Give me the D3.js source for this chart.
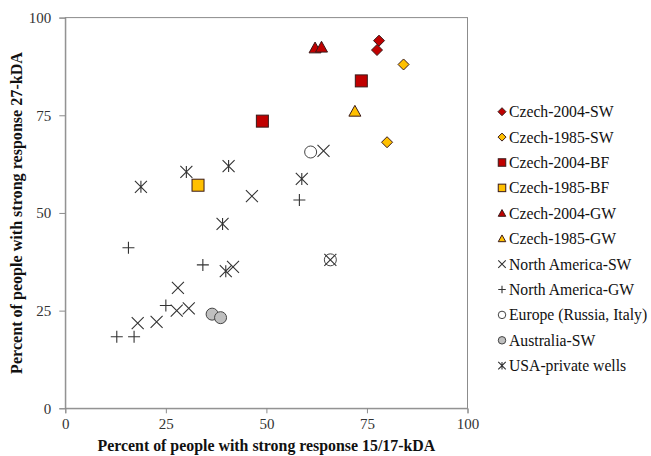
<!DOCTYPE html>
<html><head><meta charset="utf-8">
<script src="https://cdn.jsdelivr.net/npm/d3@7"></script>
<style>body{margin:0;background:#fff}svg{display:block}</style>
</head><body>
<svg id="c" width="651" height="456"></svg>
<script>
const seriesNames = ["Czech-2004-SW","Czech-1985-SW","Czech-2004-BF","Czech-1985-BF","Czech-2004-GW","Czech-1985-GW","North America-SW","North America-GW","Europe (Russia, Italy)","Australia-SW","USA-private wells"];
const czech2004SW = [[78.0,94.1],[77.5,91.7]];
const czech1985SW = [[84.1,88.0],[80.0,68.1]];
const czech2004BF = [[73.6,83.8],[49.0,73.5]];
const czech1985BF = [[33.0,57.1]];
const czech2004GW = [[62.1,92.2],[63.7,92.4]];
const czech1985GW = [[72.0,76.0]];
const northAmericaSW = [[64.2,65.9],[46.4,54.3],[65.9,38.0],[41.7,36.2],[28.0,30.8],[27.7,25.0],[30.7,25.6],[18.0,21.8],[22.7,22.1]];
const northAmericaGW = [[58.2,53.3],[15.7,41.1],[34.2,36.7],[25.0,26.3],[12.8,18.3],[17.1,18.3]];
const europe = [[61.0,65.6],[65.9,38.0]];
const australiaSW = [[36.5,24.1],[38.6,23.2]];
const usaPrivateWells = [[18.8,56.7],[30.1,60.5],[40.6,62.0],[58.8,58.7],[39.1,47.2],[39.9,35.1]];
const xTicks = [0,25,50,75,100];
const yTicks = [0,25,50,75,100];

const RED="#C00000", YEL="#FFC000", EDGE="#3a1a1a";
const styles = [
 {shape:"diamond",fill:RED},{shape:"diamond",fill:YEL},
 {shape:"square",fill:RED},{shape:"square",fill:YEL},
 {shape:"triangle",fill:RED},{shape:"triangle",fill:YEL},
 {shape:"x"},{shape:"plus"},{shape:"circle",fill:"#fff"},{shape:"circle",fill:"#bfbfbf"},{shape:"star"}
];
const data = [czech2004SW,czech1985SW,czech2004BF,czech1985BF,czech2004GW,czech1985GW,northAmericaSW,northAmericaGW,europe,australiaSW,usaPrivateWells];

const svg = d3.select("#c");
const L=65.3,R=467.5,T=17.6,B=408.3;
const x=d3.scaleLinear().domain([0,100]).range([L,R]);
const y=d3.scaleLinear().domain([0,100]).range([B,T]);

svg.append("rect").attr("x",L).attr("y",T).attr("width",R-L).attr("height",B-T).attr("fill","none").attr("stroke","#8c8c8c").attr("stroke-width",1);

const font="'Liberation Serif','Times New Roman',serif";
const xa=svg.append("g").attr("transform",`translate(0,${B})`).call(d3.axisBottom(x).tickValues(xTicks).tickSize(5).tickPadding(5));
const ya=svg.append("g").attr("transform",`translate(${L},0)`).call(d3.axisLeft(y).tickValues(yTicks).tickSize(6).tickPadding(8));
[xa,ya].forEach(a=>{a.selectAll("path,line").attr("stroke","#8c8c8c");a.selectAll("text").attr("font-family",font).attr("font-size",15).attr("fill","#333");});

function draw(g,shape,s,fill){
  const h=s/2;
  if(shape==="diamond") g.append("path").attr("d",`M0,${-h}L${h},0L0,${h}L${-h},0Z`).attr("fill",fill).attr("stroke",EDGE).attr("stroke-width",1);
  else if(shape==="square") g.append("rect").attr("x",-h).attr("y",-h).attr("width",s).attr("height",s).attr("fill",fill).attr("stroke",EDGE).attr("stroke-width",1);
  else if(shape==="triangle") g.append("path").attr("d",`M0,${-h}L${h},${h*0.8}L${-h},${h*0.8}Z`).attr("fill",fill).attr("stroke",EDGE).attr("stroke-width",1);
  else if(shape==="circle") g.append("circle").attr("r",h).attr("fill",fill).attr("stroke","#444").attr("stroke-width",1);
  else if(shape==="x") g.append("path").attr("d",`M${-h},${-h}L${h},${h}M${h},${-h}L${-h},${h}`).attr("stroke","#333").attr("stroke-width",1.1).attr("fill","none");
  else if(shape==="plus") g.append("path").attr("d",`M${-h},0L${h},0M0,${-h}L0,${h}`).attr("stroke","#333").attr("stroke-width",1.1).attr("fill","none");
  else if(shape==="star") g.append("path").attr("d",`M${-h},${-h}L${h},${h}M${h},${-h}L${-h},${h}M0,${-h}L0,${h}`).attr("stroke","#333").attr("stroke-width",1.1).attr("fill","none");
}
const sizes={diamond:11,square:12,triangle:12,circle:12,x:12,plus:12,star:12};
const order=[9,8,6,7,10,0,1,2,3,4,5];
order.forEach(i=>{
  const st=styles[i];
  data[i].forEach(d=>{
    const g=svg.append("g").attr("transform",`translate(${x(d[0])},${y(d[1])})`);
    draw(g,st.shape,sizes[st.shape],st.fill);
  });
});

// legend
const lg=svg.append("g");
seriesNames.forEach((n,i)=>{
  const cy=111.7+i*25.4;
  const g=lg.append("g").attr("transform",`translate(502,${cy})`);
  draw(g,styles[i].shape,styles[i].shape==="diamond"?8:7.5,styles[i].fill);
  lg.append("text").attr("x",509).attr("y",cy).attr("dy","0.35em").attr("font-family",font).attr("font-size",15.7).attr("fill","#111").text(n);
});

function fit(t,target){const w=t.node().getComputedTextLength();const fs=parseFloat(t.attr("font-size"));if(w>0)t.attr("font-size",(fs*target/w).toFixed(2));}
const xt=svg.append("text").attr("x",(L+R)/2).attr("y",451).attr("text-anchor","middle").attr("font-family",font).attr("font-weight","bold").attr("font-size",16).attr("fill","#111").text("Percent of people with strong response 15/17-kDA");
fit(xt,338);
const yt=svg.append("text").attr("transform",`translate(16,213) rotate(-90)`).attr("text-anchor","middle").attr("dy","0.35em").attr("font-family",font).attr("font-weight","bold").attr("font-size",15).attr("fill","#111").text("Percent  of people with strong response 27-kDA");
fit(yt,322);
</script>
</body></html>
